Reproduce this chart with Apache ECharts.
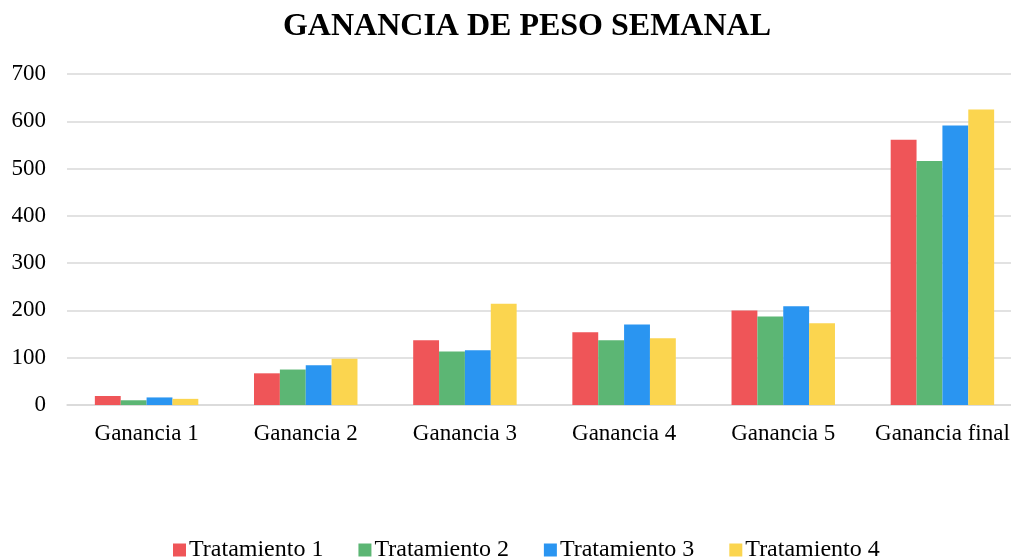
<!DOCTYPE html>
<html>
<head>
<meta charset="utf-8">
<script src="https://cdn.jsdelivr.net/npm/echarts@6/dist/echarts.min.js"></script>
<style>
  body { margin: 0; background: #fff; overflow: hidden; }
  #chart { width: 1024px; height: 559px; }
</style>
</head>
<body>
<div id="chart"></div>
<script>
var categories = ["Ganancia 1", "Ganancia 2", "Ganancia 3", "Ganancia 4", "Ganancia 5", "Ganancia final"];
var seriesNames = ["Tratamiento 1", "Tratamiento 2", "Tratamiento 3", "Tratamiento 4"];
var tratamiento1 = [19, 67, 137, 154, 200, 561];
var tratamiento2 = [10, 75, 113, 137, 187, 516];
var tratamiento3 = [16, 84, 116, 170, 209, 591];
var tratamiento4 = [13, 98, 214, 141, 173, 625];
var colors = ["#EF5558", "#5CB674", "#2A95F1", "#FBD54F"];

var allData = [tratamiento1, tratamiento2, tratamiento3, tratamiento4];
var serif = "'Liberation Serif', 'DejaVu Serif', serif";

// the chart is a bit wider than the window, so the right edge is cut like in the original
var chart = echarts.init(document.getElementById("chart"));
chart.setOption({
  animation: false,
  color: colors,
  title: {
    text: "GANANCIA DE PESO SEMANAL",
    left: 522,
    textAlign: "center",
    top: 6,
    textStyle: { fontFamily: serif, fontSize: 32, fontWeight: "bold", color: "#000" }
  },
  legend: {
    data: seriesNames,
    bottom: -8,
    left: 168,
    itemWidth: 13,
    itemHeight: 13,
    itemGap: 35,
    icon: "rect",
    textStyle: { fontFamily: serif, fontSize: 24, color: "#000", padding: [0, 0, 0, -2] }
  },
  grid: { left: 67, top: 74, width: 955, height: 331, containLabel: false },
  xAxis: {
    type: "category",
    data: categories,
    axisTick: { show: false },
    axisLine: { lineStyle: { color: "#d9d9d9", width: 1.5 } },
    axisLabel: { fontFamily: serif, fontSize: 23, color: "#000", margin: 17, interval: 0 }
  },
  yAxis: {
    type: "value",
    min: 0,
    max: 700,
    interval: 100,
    axisLabel: { fontFamily: serif, fontSize: 23, color: "#000", margin: 21 },
    splitLine: { lineStyle: { color: "#d9d9d9", width: 1.5 } }
  },
  series: allData.map(function (d, i) {
    return {
      name: seriesNames[i],
      type: "bar",
      data: d,
      barGap: "0%",
      barCategoryGap: "35%"
    };
  })
});
</script>
</body>
</html>
